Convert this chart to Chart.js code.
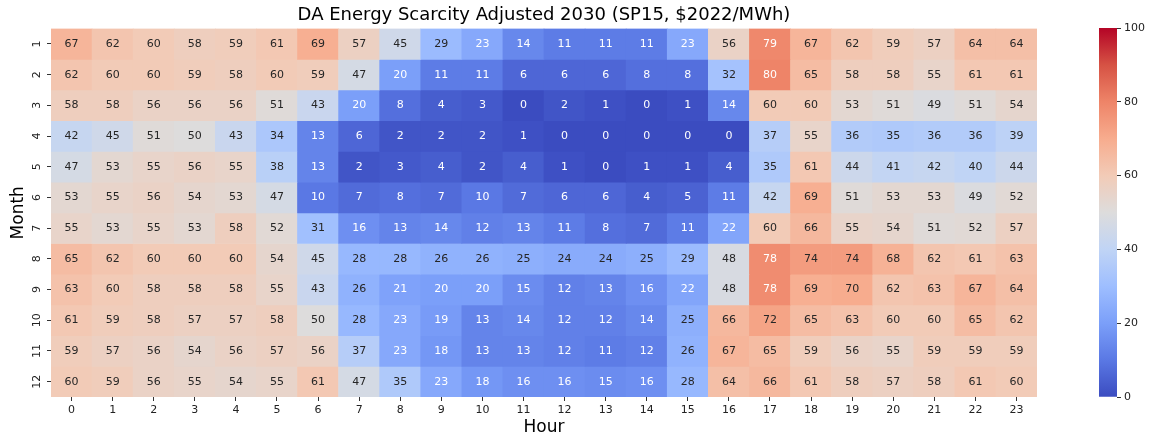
<!DOCTYPE html>
<html>
<head>
<meta charset="utf-8">
<script src="https://cdn.jsdelivr.net/npm/chart.js@4/dist/chart.umd.min.js"></script>
<style>
  html, body { margin: 0; padding: 0; background: #fff; }
  #wrap { position: relative; width: 1149px; height: 442px; }
  #main { position: absolute; left: 0; top: 0; }
  #cbar { position: absolute; left: 1090px; top: 0; }
</style>
</head>
<body>
<div id="wrap">
  <canvas id="main" width="1149" height="442"></canvas>
  <canvas id="cbar" width="59" height="442"></canvas>
</div>
<script>
// ---- data ----
const hours = ['0','1','2','3','4','5','6','7','8','9','10','11','12','13','14','15','16','17','18','19','20','21','22','23'];
const months = ['1','2','3','4','5','6','7','8','9','10','11','12'];
const month1  = [67,62,60,58,59,61,69,57,45,29,23,14,11,11,11,23,56,79,67,62,59,57,64,64];
const month2  = [62,60,60,59,58,60,59,47,20,11,11,6,6,6,8,8,32,80,65,58,58,55,61,61];
const month3  = [58,58,56,56,56,51,43,20,8,4,3,0,2,1,0,1,14,60,60,53,51,49,51,54];
const month4  = [42,45,51,50,43,34,13,6,2,2,2,1,0,0,0,0,0,37,55,36,35,36,36,39];
const month5  = [47,53,55,56,55,38,13,2,3,4,2,4,1,0,1,1,4,35,61,44,41,42,40,44];
const month6  = [53,55,56,54,53,47,10,7,8,7,10,7,6,6,4,5,11,42,69,51,53,53,49,52];
const month7  = [55,53,55,53,58,52,31,16,13,14,12,13,11,8,7,11,22,60,66,55,54,51,52,57];
const month8  = [65,62,60,60,60,54,45,28,28,26,26,25,24,24,25,29,48,78,74,74,68,62,61,63];
const month9  = [63,60,58,58,58,55,43,26,21,20,20,15,12,13,16,22,48,78,69,70,62,63,67,64];
const month10 = [61,59,58,57,57,58,50,28,23,19,13,14,12,12,14,25,66,72,65,63,60,60,65,62];
const month11 = [59,57,56,54,56,57,56,37,23,18,13,13,12,11,12,26,67,65,59,56,55,59,59,59];
const month12 = [60,59,56,55,54,55,61,47,35,23,18,16,16,15,16,28,64,66,61,58,57,58,61,60];
const rows = [month1,month2,month3,month4,month5,month6,month7,month8,month9,month10,month11,month12];
const cbTicks = [0,20,40,60,80,100];
const vmin = 0, vmax = 100;

// ---- colormap (coolwarm) ----
const cw = ['#3b4cc0','#5a78e4','#7b9ff9','#9ebeff','#c0d4f5','#dddcdc','#f2cbb7','#f7ac8e','#ee8468','#d65244','#b40426']
  .map(h => [parseInt(h.slice(1,3),16), parseInt(h.slice(3,5),16), parseInt(h.slice(5,7),16)]);
function cmap(v) {
  let t = Math.max(0, Math.min(1, (v - vmin) / (vmax - vmin))) * (cw.length - 1);
  let i = Math.min(cw.length - 2, Math.floor(t)), f = t - i;
  return cw[i].map((c, k) => c + (cw[i+1][k] - c) * f);
}
function rgb(c) { return 'rgb(' + c.map(x => Math.round(x)).join(',') + ')'; }
function lum(c) {
  const l = c.map(x => { x /= 255; return x <= 0.03928 ? x / 12.92 : Math.pow((x + 0.055) / 1.055, 2.4); });
  return 0.2126 * l[0] + 0.7152 * l[1] + 0.0722 * l[2];
}

Chart.defaults.font.family = "'DejaVu Sans', sans-serif";
Chart.defaults.color = '#222';

const annot = {
  id: 'annot',
  afterDatasetsDraw(chart) {
    const ctx = chart.ctx;
    ctx.save();
    ctx.font = "11px 'DejaVu Sans', sans-serif";
    ctx.textAlign = 'center';
    ctx.textBaseline = 'middle';
    chart.data.datasets.forEach((ds, i) => {
      const meta = chart.getDatasetMeta(i);
      meta.data.forEach((bar, j) => {
        const p = bar.getProps(['x','y','base'], true);
        const v = ds.values[j];
        ctx.fillStyle = lum(cmap(v)) > 0.408 ? '#262626' : '#ffffff';
        ctx.fillText(String(v), p.x, (p.y + p.base) / 2);
      });
    });
    ctx.restore();
  }
};

new Chart(document.getElementById('main'), {
  type: 'bar',
  data: {
    labels: hours,
    datasets: rows.map((r, i) => ({
      label: months[i],
      data: r.map(() => 1),
      values: r,
      backgroundColor: r.map(v => rgb(cmap(v))),
      borderWidth: 0,
      barPercentage: 1,
      categoryPercentage: 1,
      stack: 's'
    }))
  },
  options: {
    responsive: false,
    animation: false,
    devicePixelRatio: 1,
    layout: { padding: { left: 0, right: 112, top: 0, bottom: 0 } },
    plugins: {
      legend: { display: false },
      tooltip: { enabled: false },
      title: {
        display: true,
        fullSize: false,
        text: 'DA Energy Scarcity Adjusted 2030 (SP15, $2022/MWh)',
        color: '#000',
        font: { size: 18, weight: 'normal' },
        padding: { top: 5, bottom: 2 }
      }
    },
    scales: {
      x: {
        type: 'category',
        stacked: true,
        grid: { offset: false, drawOnChartArea: false, tickLength: 4, color: '#333' },
        border: { display: false },
        ticks: { font: { size: 11 }, color: '#222', padding: 3, maxRotation: 0, autoSkip: false },
        title: { display: true, text: 'Hour', color: '#000', font: { size: 17 }, padding: { top: 0, bottom: 4 } },
        afterFit: s => { s.height = 45; }
      },
      y: {
        type: 'linear',
        stacked: true,
        min: 0, max: 12,
        reverse: true,
        afterBuildTicks: s => { s.ticks = months.map((m, i) => ({ value: i + 0.5 })); },
        ticks: {
          callback: (v, i) => months[i],
          minRotation: 90, maxRotation: 90,
          crossAlign: 'center',
          padding: 3,
          font: { size: 11 }, color: '#222'
        },
        grid: { drawOnChartArea: false, tickLength: 4, color: '#333' },
        border: { display: false },
        title: { display: true, text: 'Month', color: '#000', font: { size: 17 }, padding: { top: 8, bottom: 0 } },
        afterFit: s => { s.width = 51; }
      }
    }
  },
  plugins: [annot]
});

// ---- colorbar ----
new Chart(document.getElementById('cbar'), {
  type: 'bar',
  data: {
    labels: [''],
    datasets: [{
      data: [[vmin, vmax]],
      borderWidth: 0,
      barPercentage: 1,
      categoryPercentage: 1,
      backgroundColor: (c) => {
        const ca = c.chart.chartArea;
        if (!ca) return '#ccc';
        const g = c.chart.ctx.createLinearGradient(0, ca.bottom, 0, ca.top);
        cw.forEach((col, k) => g.addColorStop(k / (cw.length - 1), rgb(col)));
        return g;
      }
    }]
  },
  options: {
    responsive: false,
    animation: false,
    devicePixelRatio: 1,
    layout: { padding: { left: 9, right: 0, top: 28, bottom: 45 } },
    plugins: { legend: { display: false }, tooltip: { enabled: false } },
    scales: {
      x: { display: false },
      y: {
        position: 'right',
        min: vmin, max: vmax,
        afterBuildTicks: s => { s.ticks = cbTicks.map(v => ({ value: v })); },
        ticks: { font: { size: 11 }, color: '#222', padding: 3 },
        grid: { drawOnChartArea: false, tickLength: 4, color: '#333' },
        border: { display: false },
        afterFit: s => { s.width = 32; }
      }
    }
  }
});
</script>
</body>
</html>
